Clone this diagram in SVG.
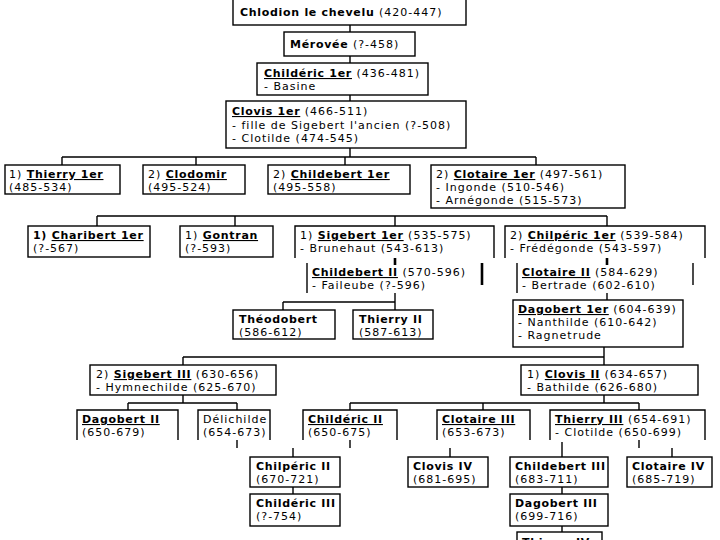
<svg xmlns="http://www.w3.org/2000/svg" width="720" height="540" viewBox="0 0 720 540">
<style>
.b{fill:#fff;stroke:#000;stroke-width:1.4}
.o{fill:none;stroke:#000;stroke-width:1.4}
.c{fill:none;stroke:#000;stroke-width:1.4}
.t{stroke-width:2.6}
text{font-family:"DejaVu Sans","Liberation Sans",sans-serif;font-size:11px;letter-spacing:1px;fill:#000}
.n{font-weight:bold;letter-spacing:0.7px}
.u{text-decoration:underline}
</style>
<rect width="720" height="540" fill="#fff"/>
<g id="connectors">
<path class="c" d="M350,25V32M350,56V63M350,95V101M350,148V157M62,157H536M62,157V165M196,157V165M345,157V165M536,157V165"/>
<path class="c" d="M97,216H607M97,216V226M235,216V226M395,216V226M607,216V226"/>
<path class="c t" d="M395,258V265M607,258V265"/>
<path class="c" d="M395,293V310M283,302H395M283,302V310M607,293V300"/>
<path class="c" d="M604,347V365M183,357H604M183,357V365"/>
<path class="c" d="M183,395V403M128,403H237M128,403V410M237,403V410"/>
<path class="c" d="M604,395V403M350,403H639M350,403V410M483,403V410M639,403V410"/>
<path class="c" d="M237,440V448M350,440V448M293,448V457M450,448V457M562,442V457M639,440V448M672,448V457"/>
<path class="c" d="M293,487V494M562,487V494M562,526V532"/>
</g>
<g id="n-chlodion"><rect class="b" x="233" y="-1" width="233" height="26"/><text x="240" y="16"><tspan class="n">Chlodion le chevelu</tspan> (420-447)</text></g>
<g id="n-merovee"><rect class="b" x="284" y="32" width="131" height="24"/><text x="290" y="48"><tspan class="n">Mérovée</tspan> (?-458)</text></g>
<g id="n-childeric1"><rect class="b" x="257" y="63" width="171" height="32"/><text x="264" y="77"><tspan class="n u">Childéric 1er</tspan> (436-481)</text><text x="264" y="90">- Basine</text></g>
<g id="n-clovis1"><rect class="b" x="226" y="101" width="240" height="47"/><text x="232" y="115"><tspan class="n u">Clovis 1er</tspan>  (466-511)</text><text x="232" y="129">- fille de Sigebert l'ancien (?-508)</text><text x="232" y="142">- Clotilde (474-545)</text></g>
<g id="n-thierry1"><rect class="b" x="5" y="165" width="115" height="29"/><text x="9" y="178">1) <tspan class="n u">Thierry 1er</tspan></text><text x="9" y="191">(485-534)</text></g>
<g id="n-clodomir"><rect class="b" x="143" y="165" width="102" height="29"/><text x="148" y="178">2) <tspan class="n u">Clodomir</tspan></text><text x="148" y="191">(495-524)</text></g>
<g id="n-childebert1"><rect class="b" x="268" y="165" width="142" height="29"/><text x="273" y="178">2) <tspan class="n u">Childebert 1er</tspan></text><text x="273" y="191">(495-558)</text></g>
<g id="n-clotaire1"><rect class="b" x="431" y="165" width="194" height="43"/><text x="436" y="178">2) <tspan class="n u">Clotaire 1er</tspan> (497-561)</text><text x="436" y="191">- Ingonde (510-546)</text><text x="436" y="204">- Arnégonde (515-573)</text></g>
<g id="n-charibert"><rect class="b" x="28" y="226" width="122" height="31"/><text x="33" y="239"><tspan class="n">1) </tspan><tspan class="n u">Charibert 1er</tspan></text><text x="33" y="252">(?-567)</text></g>
<g id="n-gontran"><rect class="b" x="180" y="226" width="93" height="31"/><text x="185" y="239">1) <tspan class="n u">Gontran</tspan></text><text x="185" y="252">(?-593)</text></g>
<g id="n-sigebert1"><path class="o" d="M295,258V226H494V258"/><text x="300" y="239">1) <tspan class="n u">Sigebert 1er</tspan> (535-575)</text><text x="300" y="252">- Brunehaut (543-613)</text></g>
<g id="n-chilperic1"><path class="o" d="M505,258V226H705V258"/><text x="510" y="239">2) <tspan class="n u">Chilpéric 1er</tspan> (539-584)</text><text x="510" y="252">- Frédégonde (543-597)</text></g>
<g id="n-childebert2"><path class="o" d="M307,263V293"/><path class="o t" d="M482,263V285"/><text x="312" y="276"><tspan class="n u">Childebert II</tspan> (570-596)</text><text x="312" y="289">- Faileube (?-596)</text></g>
<g id="n-clotaire2"><path class="o" d="M517,263V293M693,263V285"/><text x="522" y="276"><tspan class="n u">Clotaire II</tspan> (584-629)</text><text x="522" y="289">- Bertrade (602-610)</text></g>
<g id="n-theodobert"><rect class="b" x="233" y="310" width="102" height="29"/><text x="239" y="323" class="n">Théodobert</text><text x="239" y="336">(586-612)</text></g>
<g id="n-thierry2"><rect class="b" x="353" y="310" width="80" height="29"/><text x="359" y="323" class="n">Thierry II</text><text x="359" y="336">(587-613)</text></g>
<g id="n-dagobert1"><rect class="b" x="513" y="300" width="170" height="47"/><text x="518" y="313"><tspan class="n u">Dagobert 1er</tspan> (604-639)</text><text x="518" y="326">- Nanthilde (610-642)</text><text x="518" y="339">- Ragnetrude</text></g>
<g id="n-sigebert3"><rect class="b" x="90" y="365" width="186" height="30"/><text x="96" y="378">2) <tspan class="n u">Sigebert III</tspan> (630-656)</text><text x="96" y="391">- Hymnechilde (625-670)</text></g>
<g id="n-clovis2"><rect class="b" x="521" y="365" width="177" height="30"/><text x="527" y="378">1) <tspan class="n u">Clovis II</tspan> (634-657)</text><text x="527" y="391">- Bathilde (626-680)</text></g>
<g id="n-dagobert2"><path class="o" d="M77,440V410H178V440"/><text x="82" y="423" class="n u">Dagobert II</text><text x="82" y="436">(650-679)</text></g>
<g id="n-delichilde"><path class="o" d="M198,440V410H270V440"/><text x="203" y="423">Délichilde</text><text x="203" y="436">(654-673)</text></g>
<g id="n-childeric2"><path class="o" d="M303,440V410H397V440"/><text x="308" y="423" class="n u">Childéric II</text><text x="308" y="436">(650-675)</text></g>
<g id="n-clotaire3"><path class="o" d="M437,440V410H530V440"/><text x="442" y="423" class="n u">Clotaire III</text><text x="442" y="436">(653-673)</text></g>
<g id="n-thierry3"><path class="o" d="M550,440V410H705V440"/><text x="555" y="423"><tspan class="n u">Thierry III</tspan> (654-691)</text><text x="555" y="436">- Clotilde (650-699)</text></g>
<g id="n-chilperic2"><rect class="b" x="250" y="457" width="90" height="30"/><text x="256" y="470" class="n">Chilpéric II</text><text x="256" y="483">(670-721)</text></g>
<g id="n-clovis4"><rect class="b" x="408" y="457" width="80" height="30"/><text x="413" y="470" class="n">Clovis IV</text><text x="413" y="483">(681-695)</text></g>
<g id="n-childebert3"><rect class="b" x="510" y="457" width="98" height="30"/><text x="515" y="470" class="n">Childebert III</text><text x="515" y="483">(683-711)</text></g>
<g id="n-clotaire4"><rect class="b" x="627" y="457" width="85" height="30"/><text x="632" y="470" class="n">Clotaire IV</text><text x="632" y="483">(685-719)</text></g>
<g id="n-childeric3"><rect class="b" x="250" y="494" width="90" height="32"/><text x="256" y="507" class="n">Childéric III</text><text x="256" y="520">(?-754)</text></g>
<g id="n-dagobert3"><rect class="b" x="510" y="494" width="98" height="32"/><text x="515" y="507" class="n">Dagobert III</text><text x="515" y="520">(699-716)</text></g>
<g id="n-thierry4"><rect class="b" x="517" y="532" width="85" height="30"/><text x="522" y="546" class="n">Thierry IV</text></g>
</svg>
